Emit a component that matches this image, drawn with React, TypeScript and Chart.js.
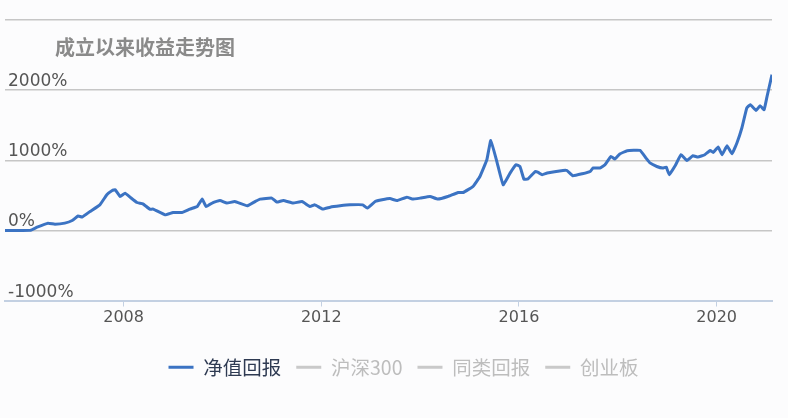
import React, { useEffect, useRef } from "react";
import { Chart, registerables } from "chart.js";

Chart.register(...registerables);

const TITLE = "成立以来收益走势图";
const SERIES_NAMES = ["净值回报", "沪深300", "同类回报", "创业板"];
const X_TICKS = [2008, 2012, 2016, 2020];
const Y_TICKS = [-1000, 0, 1000, 2000, 3000];

const years = [
  2005.60, 2006.11, 2006.25, 2006.47, 2006.61, 2006.81, 2006.96, 2007.08, 2007.16, 2007.32,
  2007.52, 2007.66, 2007.77, 2007.83, 2007.93, 2008.03, 2008.13, 2008.27, 2008.39, 2008.53,
  2008.60, 2008.84, 2009.00, 2009.18, 2009.34, 2009.49, 2009.59, 2009.67, 2009.81, 2009.95,
  2010.09, 2010.25, 2010.50, 2010.66, 2010.76, 2011.00, 2011.10, 2011.23, 2011.43, 2011.61,
  2011.77, 2011.87, 2012.03, 2012.18, 2012.38, 2012.58, 2012.84, 2012.93, 2013.09, 2013.23,
  2013.39, 2013.53, 2013.73, 2013.84, 2014.00, 2014.20, 2014.36, 2014.56, 2014.77, 2014.87,
  2015.07, 2015.21, 2015.35, 2015.43, 2015.56, 2015.68, 2015.82, 2015.94, 2016.02, 2016.10,
  2016.18, 2016.33, 2016.39, 2016.47, 2016.57, 2016.89, 2016.97, 2017.09, 2017.28, 2017.44,
  2017.50, 2017.64, 2017.74, 2017.86, 2017.94, 2018.04, 2018.19, 2018.45, 2018.57, 2018.65,
  2018.79, 2018.91, 2018.98, 2019.04, 2019.16, 2019.28, 2019.40, 2019.52, 2019.62, 2019.76,
  2019.87, 2019.93, 2020.03, 2020.11, 2020.21, 2020.31, 2020.41, 2020.51, 2020.61, 2020.68,
  2020.80, 2020.88, 2020.96, 2021.02, 2021.12,
];

const navReturn = [
  0, 0, 46, 103, 89, 103, 140, 207, 189, 269,
  364, 507, 569, 579, 483, 531, 474, 397, 379, 303,
  303, 221, 254, 254, 303, 340, 446, 340, 397, 426,
  389, 411, 350, 411, 446, 460, 403, 426, 389, 411,
  340, 364, 303, 331, 350, 364, 364, 317, 411, 436,
  453, 426, 474, 446, 460, 483, 446, 483, 540, 540,
  626, 769, 1007, 1283, 960, 650, 817, 936, 911, 731,
  731, 840, 826, 793, 817, 854, 854, 779, 807, 840,
  889, 889, 936, 1054, 1017, 1089, 1136, 1140, 1031, 962,
  911, 889, 903, 793, 921, 1079, 997, 1064, 1046, 1079,
  1140, 1111, 1189, 1079, 1207, 1093, 1246, 1460, 1746, 1793,
  1711, 1779, 1721, 1911, 2221,
];

// unselected legend series (no line shown)
const hs300: number[] = [];
const peerReturn: number[] = [];
const chiNext: number[] = [];

const BLUE = "#3b73c3";
const GREY_LINE = "#c9c9c9";
const LEGEND_TEXT = ["#2e3a52", "#bdbdbd", "#bdbdbd", "#bdbdbd"];

const extrasPlugin = {
  id: "extras",
  beforeDraw(chart: any) {
    const ctx = chart.ctx;
    ctx.save();
    ctx.fillStyle = "#fcfcfd";
    ctx.fillRect(0, 0, chart.width, chart.height);
    ctx.restore();
  },
  afterLayout(chart: any) {
    if (chart.legend) {
      chart.legend.left += 15;
      chart.legend.right += 15;
    }
  },
  afterDraw(chart: any) {
    const ctx = chart.ctx;
    const y = chart.scales.y;
    ctx.save();
    ctx.font = '17px "DejaVu Sans"';
    ctx.fillStyle = "#555555";
    ctx.textAlign = "left";
    ctx.textBaseline = "alphabetic";
    Y_TICKS.forEach((v) => {
      if (v === 3000) return;
      ctx.fillText(`${v}%`, 8, y.getPixelForValue(v) - 4);
    });
    ctx.font = 'bold 20px "Noto Sans CJK SC"';
    ctx.fillStyle = "#8a8a8a";
    ctx.textBaseline = "middle";
    ctx.fillText(TITLE, 55, 47);
    ctx.restore();
  },
};

export default function App() {
  const ref = useRef<HTMLCanvasElement | null>(null);
  useEffect(() => {
    if (!ref.current) return;
    const mk = (arr: number[]) => arr.map((v, i) => ({ x: years[i], y: v }));
    const chart = new Chart(ref.current, {
      type: "line",
      data: {
        datasets: [
          { label: SERIES_NAMES[0], data: mk(navReturn), borderColor: BLUE, borderWidth: 3, pointRadius: 0, tension: 0.1, borderJoinStyle: "round", fill: false },
          { label: SERIES_NAMES[1], data: mk(hs300), borderColor: GREY_LINE, pointRadius: 0 },
          { label: SERIES_NAMES[2], data: mk(peerReturn), borderColor: GREY_LINE, pointRadius: 0 },
          { label: SERIES_NAMES[3], data: mk(chiNext), borderColor: GREY_LINE, pointRadius: 0 },
        ],
      },
      options: {
        animation: false,
        responsive: false,
        parsing: false as any,
        layout: { padding: { left: 5, right: 16, top: 20, bottom: 31 } },
        plugins: {
          tooltip: { enabled: false },
          title: { display: false },
          legend: {
            position: "bottom",
            labels: {
              boxWidth: 25,
              boxHeight: 3,
              padding: 15,
              font: { size: 19.5, family: '"Noto Sans CJK SC"' },
              generateLabels: (c: any) =>
                c.data.datasets.map((d: any, i: number) => ({
                  text: d.label,
                  fillStyle: d.borderColor,
                  strokeStyle: "rgba(0,0,0,0)",
                  lineWidth: 0,
                  hidden: false,
                  fontColor: LEGEND_TEXT[i],
                  datasetIndex: i,
                })),
            },
          },
        },
        scales: {
          x: {
            type: "linear",
            min: 2005.6,
            max: 2021.12,
            afterBuildTicks: (s: any) => {
              s.ticks = X_TICKS.map((v) => ({ value: v }));
            },
            afterFit: (s: any) => {
              s.height = 42;
            },
            grid: { drawOnChartArea: false, drawTicks: true, tickLength: 6, color: "#c3d0e2", lineWidth: 1 },
            border: { display: true, color: "#c3d0e2", width: 2 },
            ticks: {
              color: "#555555",
              font: { size: 16, family: '"DejaVu Sans"' },
              padding: 2,
              maxRotation: 0,
              callback: (v: any) => String(v),
            },
          },
          y: {
            min: -1000,
            max: 3000,
            afterBuildTicks: (s: any) => {
              s.ticks = Y_TICKS.map((v) => ({ value: v }));
            },
            afterFit: (s: any) => {
              s.width = 0;
            },
            ticks: { display: false },
            border: { display: false },
            grid: {
              drawTicks: false,
              lineWidth: 1.5,
              color: (c: any) => (c.tick && c.tick.value === -1000 ? "rgba(0,0,0,0)" : "#c6c6c6"),
            },
          },
        },
      },
      plugins: [extrasPlugin],
    } as any);
    return () => chart.destroy();
  }, []);
  return (
    <div style={{ position: "fixed", left: 0, top: 0, width: 788, height: 418 }}>
      <canvas ref={ref} width={788} height={418} style={{ display: "block" }} />
    </div>
  );
}
